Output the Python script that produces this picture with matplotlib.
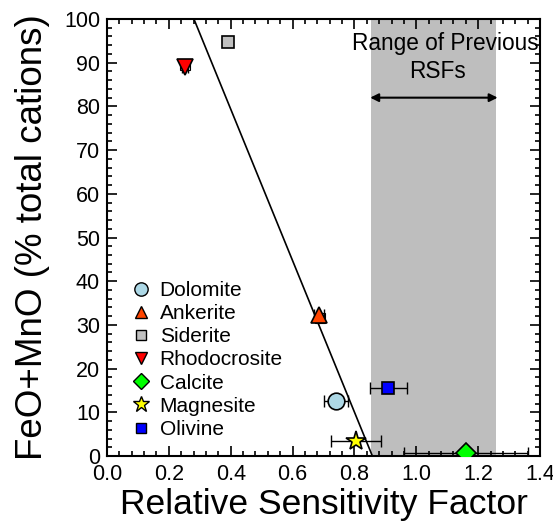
import matplotlib
matplotlib.use("Agg")
import matplotlib.pyplot as plt
from matplotlib.ticker import MultipleLocator, AutoMinorLocator

plt.rcParams['font.family'] = ['Liberation Sans', 'DejaVu Sans']

minerals = ["Dolomite", "Ankerite", "Siderite", "Rhodocrosite", "Calcite", "Magnesite", "Olivine"]
rsf = [0.74, 0.685, 0.39, 0.252, 1.16, 0.805, 0.91]
feo_mno = [12.7, 32.3, 94.8, 89.0, 0.8, 3.5, 15.5]
rsf_err = [0.04, 0.015, 0.0, 0.01, 0.20, 0.08, 0.06]
markers = ["o", "^", "s", "v", "D", "*", "s"]
colors = ["#add8e6", "#ff4500", "#c0c0c0", "#ff0000", "#00ff00", "#ffff00", "#0000ff"]
sizes = [12, 11, 9, 11, 10, 15, 9]

# hidden siderite points behind other markers
extra_sid_x = [0.252, 0.69]
extra_sid_y = [89.5, 31.5]

fit_x = [0.858, 0.281]
fit_y = [0.0, 100.0]

prev_range = [0.855, 1.258]

fig = plt.figure(figsize=(5.53, 5.25), dpi=100)
ax = fig.add_axes([0.1935, 0.1314, 0.783, 0.8324])

ax.axvspan(prev_range[0], prev_range[1], color="#bebebe", zorder=0, lw=0)
ax.plot(fit_x, fit_y, color="black", lw=1.2, zorder=2)

ax.plot(extra_sid_x, extra_sid_y, linestyle="none", marker="s", markersize=7,
        markerfacecolor="white", markeredgecolor="black", markeredgewidth=0.8, zorder=3)

for name, x, y, e, m, c, s in zip(minerals, rsf, feo_mno, rsf_err, markers, colors, sizes):
    if e > 0:
        ax.errorbar(x, y, xerr=e, fmt="none", ecolor="black", elinewidth=1, capsize=4, capthick=1, zorder=3)
    ax.plot(x, y, linestyle="none", marker=m, markersize=s, markerfacecolor=c,
            markeredgecolor="black", markeredgewidth=1.2, zorder=4)

# legend handles
handles = []
for name, m, c, s in zip(minerals, markers, colors, sizes):
    h, = ax.plot([], [], linestyle="none", marker=m, markersize=s * 0.8,
                 markerfacecolor=c, markeredgecolor="black", markeredgewidth=1.0, label=name)
    handles.append(h)
leg = ax.legend(handles=handles, loc="lower left", bbox_to_anchor=(0.03, 0.02), frameon=False,
                fontsize=15, handletextpad=0.3, labelspacing=0.2, borderaxespad=0.0, handlelength=1.2)

ax.annotate("", xy=(0.842, 82), xytext=(1.272, 82),
            arrowprops=dict(arrowstyle="<|-|>", color="black", lw=1.5, mutation_scale=12))
ax.text(1.093, 94.5, "Range of Previous", ha="center", va="center", fontsize=16.3)
ax.text(1.067, 88.1, "RSFs", ha="center", va="center", fontsize=16.3)

ax.set_xlim(0, 1.4)
ax.set_ylim(0, 100)
ax.xaxis.set_major_locator(MultipleLocator(0.2))
ax.xaxis.set_minor_locator(AutoMinorLocator(5))
ax.yaxis.set_major_locator(MultipleLocator(10))
ax.yaxis.set_minor_locator(AutoMinorLocator(5))
ax.tick_params(which="both", direction="in", top=True, right=True, width=1.2)
ax.tick_params(which="major", length=7, labelsize=15.5)
ax.tick_params(axis="y", which="major", pad=5)
ax.tick_params(axis="x", which="major", pad=6)
ax.tick_params(which="minor", length=3.5)
ax.xaxis.set_major_formatter(plt.FuncFormatter(lambda v, p: f"{v:.1f}"))
for sp in ax.spines.values():
    sp.set_linewidth(1.5)

ax.set_xlabel("Relative Sensitivity Factor", fontsize=25.5, labelpad=2)
ax.set_ylabel("FeO+MnO (% total cations)", fontsize=26.5, labelpad=10)

fig.savefig("out.png", dpi=100)
